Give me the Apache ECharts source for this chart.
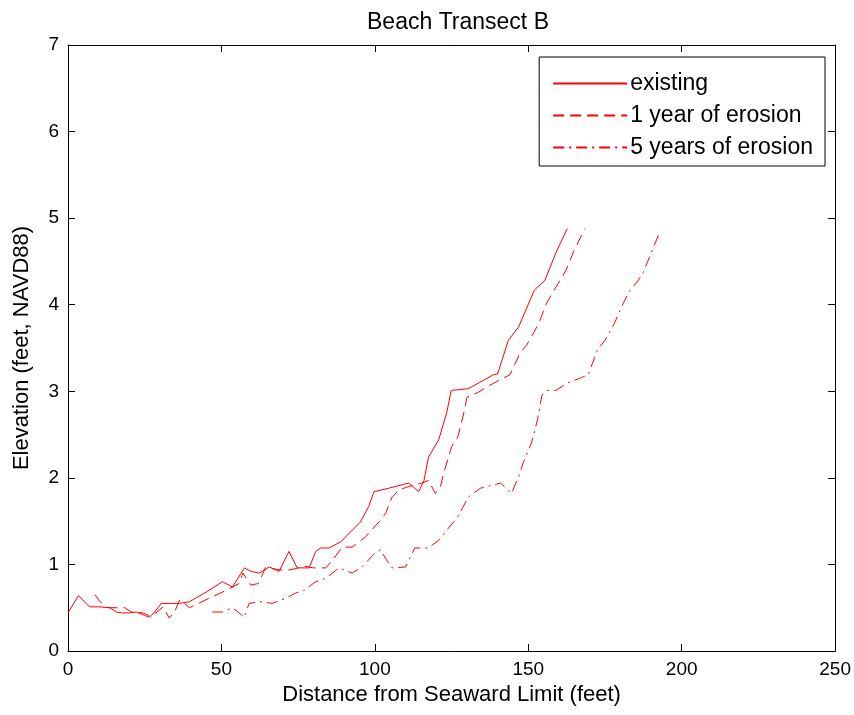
<!DOCTYPE html>
<html>
<head>
<meta charset="utf-8">
<script src="https://cdn.jsdelivr.net/npm/echarts@6/dist/echarts.min.js"></script>
<style>
  html, body { margin: 0; padding: 0; background: #fff; }
  #chart { width: 854px; height: 715px; }
</style>
</head>
<body>
<div id="chart"></div>
<script>
// profile: distance (ft) and elevation (ft, NAVD88)
const existingX = [0, 3.4, 7, 10, 13.6, 15.8, 17.4, 20, 22.3, 25, 26.6, 28.2, 30.4, 33.7, 36.4, 39.6, 45, 50.3, 53.6, 57.5, 59.6, 62.3, 65.6, 68.8, 72, 74.7, 78.6, 80.7, 82.4, 85, 88.9, 91.6, 95.3, 98, 99.7, 104.5, 111, 114.3, 116, 117.5, 120.8, 123.4, 124.9, 130.5, 134, 138.6, 140, 143.5, 146.8, 152, 155.4, 159, 162.7]
const existingY = [0.44, 0.64, 0.51, 0.51, 0.5, 0.45, 0.44, 0.44, 0.45, 0.41, 0.39, 0.45, 0.55, 0.55, 0.55, 0.57, 0.68, 0.8, 0.74, 0.96, 0.92, 0.9, 0.97, 0.92, 1.15, 0.96, 0.96, 1.15, 1.19, 1.19, 1.26, 1.36, 1.49, 1.67, 1.84, 1.88, 1.94, 1.84, 1.97, 2.24, 2.44, 2.75, 3.01, 3.03, 3.1, 3.19, 3.2, 3.59, 3.74, 4.17, 4.28, 4.6, 4.88]

const year1X = [8.8, 10.4, 13, 16, 18.5, 20.7, 22, 24.4, 27, 29, 31, 33, 34.7, 36.4, 39.6, 46, 51.5, 55.8, 57, 59.6, 62, 64.5, 68.3, 71, 74, 77, 80, 84, 86.7, 89.3, 92.6, 97, 101.3, 103.5, 105.5, 107.8, 111, 115.3, 117.5, 119.7, 121.4, 122.4, 125, 127, 129, 130, 133.8, 136, 139, 144, 147.3, 149.4, 152.6, 153.8, 156, 157.6, 160.7, 162.3, 164.6, 168.4]
const year1Y = [0.65, 0.57, 0.5, 0.5, 0.5, 0.45, 0.45, 0.44, 0.4, 0.45, 0.51, 0.38, 0.45, 0.59, 0.5, 0.61, 0.7, 0.78, 0.9, 0.76, 0.78, 0.97, 0.94, 0.93, 0.95, 0.98, 0.96, 0.96, 1.07, 1.2, 1.2, 1.32, 1.49, 1.59, 1.77, 1.86, 1.9, 1.94, 1.97, 1.82, 1.9, 2.05, 2.36, 2.47, 2.75, 2.93, 2.99, 3.04, 3.1, 3.19, 3.44, 3.53, 3.73, 3.82, 4.02, 4.12, 4.3, 4.4, 4.6, 4.88]

const year5X = [47, 50.3, 53.6, 57.5, 59, 62.9, 66.5, 71, 74.2, 77, 80.7, 84, 88.3, 92.6, 95.8, 100, 101.8, 103.5, 105.5, 110, 113, 117.5, 120.8, 124, 127, 130.5, 134.4, 141, 144.5, 146.8, 148.4, 151, 153, 154.5, 156, 159, 163, 166.8, 169.5, 171.6, 172.7, 175, 178, 180.3, 183, 185.4, 187.3, 189.5, 190.6, 193]
const year5Y = [0.45, 0.45, 0.5, 0.39, 0.55, 0.57, 0.55, 0.61, 0.67, 0.7, 0.8, 0.84, 0.96, 0.9, 0.97, 1.13, 1.17, 1.07, 0.96, 0.97, 1.19, 1.19, 1.28, 1.42, 1.55, 1.78, 1.88, 1.94, 1.82, 2.01, 2.18, 2.4, 2.67, 2.96, 3.01, 3.01, 3.1, 3.15, 3.19, 3.39, 3.49, 3.59, 3.78, 3.97, 4.16, 4.26, 4.36, 4.55, 4.65, 4.85]

const seriesNames = ['existing', '1 year of erosion', '5 years of erosion']

const pairs = (xs, ys) => xs.map((x, i) => [x, ys[i]])

const font = 'Liberation Sans, Arial, sans-serif'
const tickFont = { color: '#000', fontSize: 19, fontFamily: font }
const nameFont = { color: '#000', fontSize: 22, fontFamily: font }
const black = { color: '#000', width: 1 }

// box axis: ticks inward, no labels, not snapped to zero
function boxAxis (extra) {
  return Object.assign({
    type: 'value',
    axisLine: { show: true, onZero: false, lineStyle: black },
    axisTick: { show: true, inside: true, length: 7, lineStyle: black },
    axisLabel: { show: false },
    splitLine: { show: false }
  }, extra)
}

const chart = echarts.init(document.getElementById('chart'))

const option = {
  animation: false,
  backgroundColor: '#fff',
  title: {
    text: 'Beach Transect B',
    left: 453,
    textAlign: 'center',
    top: 6,
    textStyle: { color: '#000', fontSize: 23, fontWeight: 'normal', fontFamily: font }
  },
  grid: { left: 68, right: 16, top: 45, bottom: 64 },
  legend: {
    data: seriesNames,
    orient: 'vertical',
    right: 29,
    top: 57,
    itemWidth: 74,
    itemHeight: 20,
    itemGap: 9,
    padding: [15, 12, 7, 13],
    backgroundColor: '#fff',
    borderColor: '#000',
    borderWidth: 1,
    itemStyle: { opacity: 0 },
    textStyle: { color: '#000', fontSize: 23, fontFamily: font, padding: [0, 0, 0, -2] }
  },
  xAxis: [
    boxAxis({
      min: 0, max: 250, interval: 50,
      position: 'bottom',
      name: 'Distance from Seaward Limit (feet)',
      nameLocation: 'middle',
      nameGap: 33,
      nameTextStyle: nameFont,
      axisLabel: Object.assign({ show: true, margin: 9 }, tickFont)
    }),
    boxAxis({ min: 0, max: 250, interval: 50, position: 'top' })
  ],
  yAxis: [
    boxAxis({
      min: 0, max: 7, interval: 1,
      position: 'left',
      name: 'Elevation (feet, NAVD88)',
      nameLocation: 'middle',
      nameGap: 35,
      nameTextStyle: nameFont,
      axisLabel: Object.assign({ show: true, margin: 9 }, tickFont)
    }),
    boxAxis({ min: 0, max: 7, interval: 1, position: 'right' })
  ],
  series: [
    {
      name: seriesNames[0],
      type: 'line',
      data: pairs(existingX, existingY),
      symbol: 'none',
      lineStyle: { color: '#ff0000', width: 1, type: 'solid' },
      itemStyle: { color: '#ff0000' }
    },
    {
      name: seriesNames[1],
      type: 'line',
      data: pairs(year1X, year1Y),
      symbol: 'none',
      lineStyle: { color: '#ff0000', width: 1, type: [11, 6] },
      itemStyle: { color: '#ff0000' }
    },
    {
      name: seriesNames[2],
      type: 'line',
      data: pairs(year5X, year5Y),
      symbol: 'none',
      lineStyle: { color: '#ff0000', width: 1, type: [11, 5, 2, 5] },
      itemStyle: { color: '#ff0000' }
    }
  ]
}

chart.setOption(option)
</script>
</body>
</html>
